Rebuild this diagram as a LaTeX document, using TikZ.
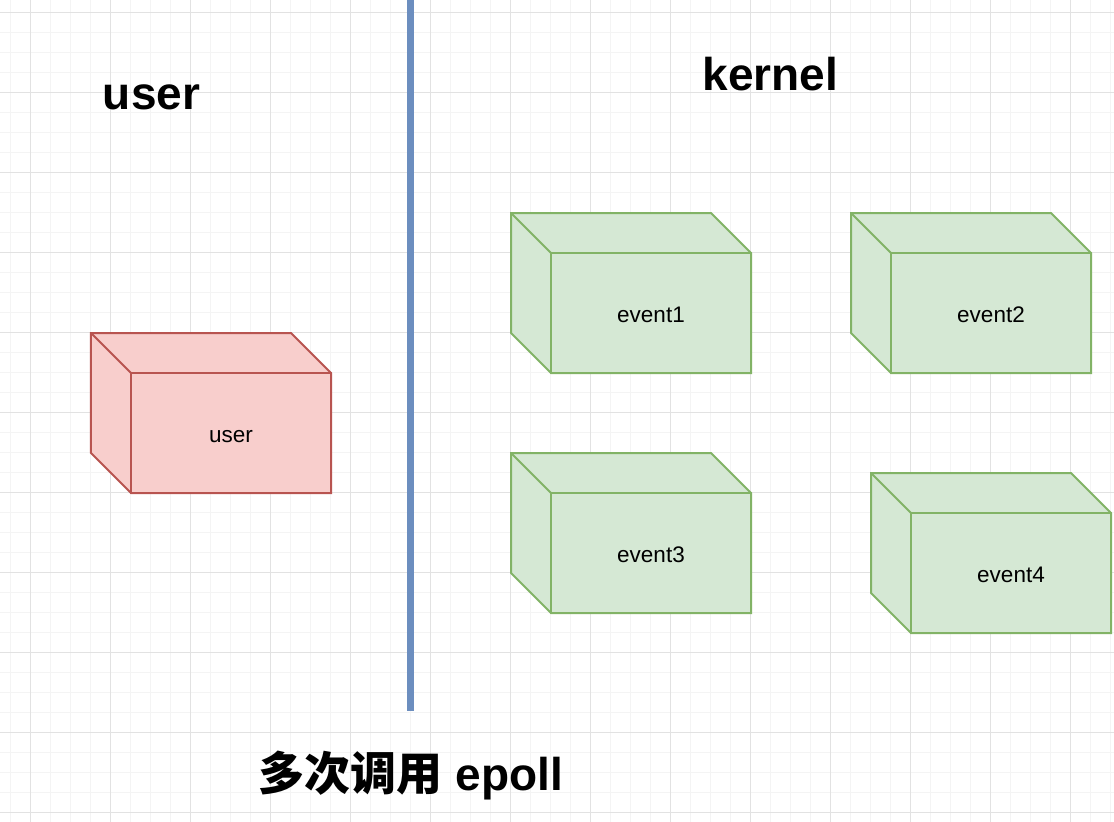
\documentclass[tikz,border=0pt]{standalone}
\usepackage{fontspec}
\setmainfont{Liberation Sans}
\newfontfamily\cjkfont{Noto Sans CJK SC}
\definecolor{ufill}{HTML}{F8CECC}
\definecolor{ustroke}{HTML}{B85450}
\definecolor{efill}{HTML}{D5E8D4}
\definecolor{estroke}{HTML}{82B366}
\definecolor{bline}{HTML}{6C8EBF}
\definecolor{gminor}{HTML}{F4F4F4}
\definecolor{gmajor}{HTML}{E2E2E2}
\tikzset{
  front/.style={draw, line width=2bp, minimum width=200bp, minimum height=120bp,
    inner sep=0pt, outer sep=0pt, text height=18bp, text depth=0bp,
    font=\fontsize{22.5bp}{27bp}\selectfont},
  usrbox/.style={fill=ufill, draw=ustroke},
  evtbox/.style={fill=efill, draw=estroke},
  side/.style={line width=2bp, line join=miter},
  title/.style={anchor=base, inner sep=0pt, font=\fontsize{46bp}{55bp}\selectfont\bfseries},
  divider/.style={draw=bline, line width=7bp},
}
\newcommand{\cubesides}[2]{%
  \fill[#2, draw=none] (#1.north west) ++(-40,-40) -- ++(200,0) -- (#1.north east) -- (#1.north west) -- (#1.south west) -- ++(-40,-40) -- cycle;
  \draw[side, #2, fill=none] (#1.north west) ++(-40,-40) -- ++(200,0) -- (#1.north east) -- (#1.south east) -- (#1.south west) -- ++(-40,-40) -- cycle;
  \draw[side, #2, fill=none] (#1.north west) ++(-40,-40) -- (#1.north west);
  \draw[side, #2, fill=none] (#1.north west) rectangle (#1.south east);
}
\begin{document}
\begin{tikzpicture}[x=1bp, y=-1bp]
\useasboundingbox (0,0) rectangle (1114,822);
\fill[white] (0,0) rectangle (1114,822);
% grid
\foreach \i in {0,...,55} {\draw[gminor, line width=1bp] (10.5+20*\i,0) -- (10.5+20*\i,822);}
\foreach \i in {0,...,40} {\draw[gminor, line width=1bp] (0,12.5+20*\i) -- (1114,12.5+20*\i);}
\foreach \i in {0,...,13} {\draw[gmajor, line width=1bp] (30.5+80*\i,0) -- (30.5+80*\i,822);}
\foreach \i in {0,...,10} {\draw[gmajor, line width=1bp] (0,12.5+80*\i) -- (1114,12.5+80*\i);}
% divider
\coordinate (divtop) at (410,-5);
\coordinate (divbot) at (410,711);
\draw[divider] (divtop) -- (divbot);
% titles
\node[title] (tuser) at (151.5,110) {user};
\node[title] (tkernel) at (770.5,90.7) {kernel};
\node[title] (tepoll) at (411,790) {{\cjkfont\bfseries 多次调用} epoll};
% boxes
\node[front, usrbox] (user) at (231,433) {user};
\cubesides{user}{usrbox}
\node[front, evtbox] (ev1) at (651,313) {event1};
\cubesides{ev1}{evtbox}
\node[front, evtbox] (ev2) at (991,313) {event2};
\cubesides{ev2}{evtbox}
\node[front, evtbox] (ev3) at (651,553) {event3};
\cubesides{ev3}{evtbox}
\node[front, evtbox] (ev4) at (1011,573) {event4};
\cubesides{ev4}{evtbox}
\end{tikzpicture}
\end{document}
